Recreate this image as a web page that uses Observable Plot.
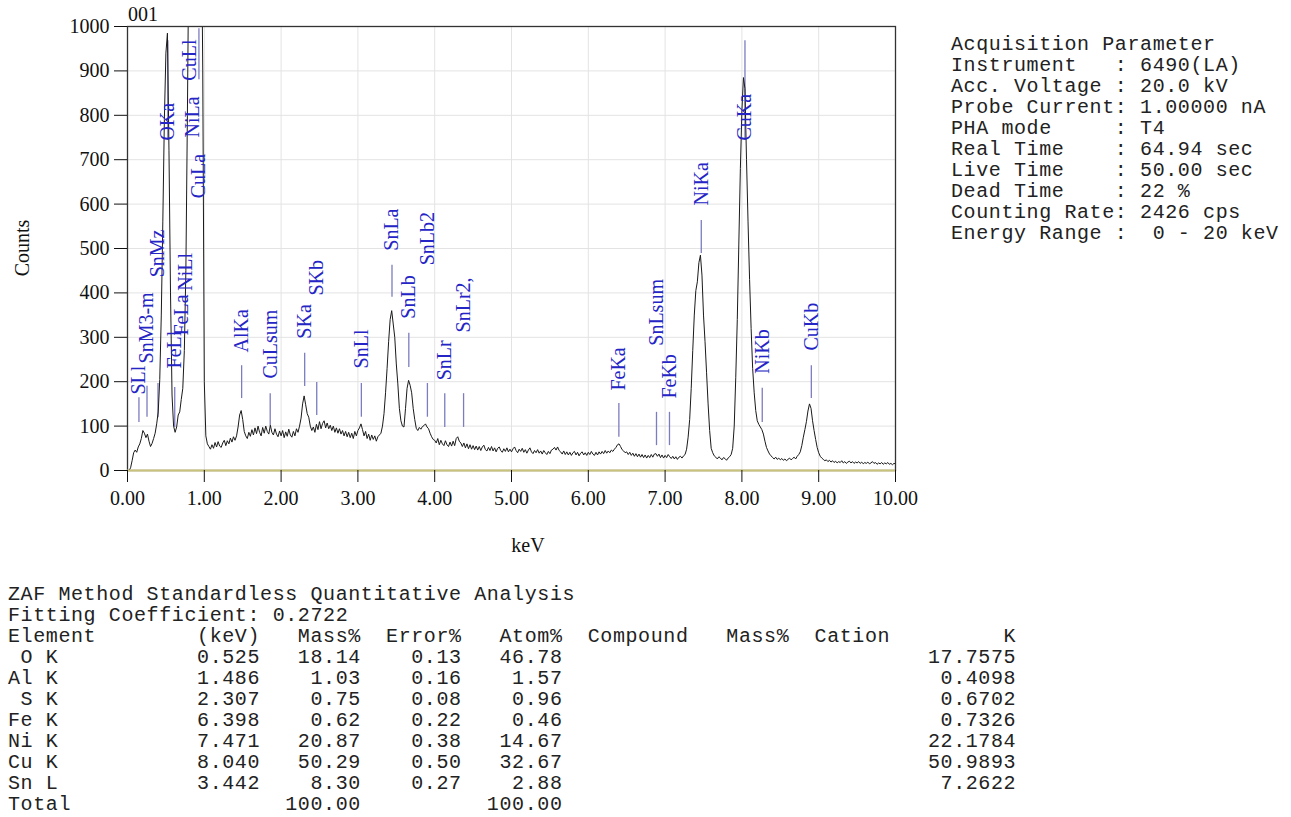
<!DOCTYPE html>
<html><head><meta charset="utf-8">
<script src="https://cdn.jsdelivr.net/npm/d3@7"></script>
<script src="https://cdn.jsdelivr.net/npm/@observablehq/plot@0.6"></script>
<style>
html,body{margin:0;padding:0;background:#fff;width:1291px;height:817px;overflow:hidden;}
#chart{position:absolute;left:0;top:0;}
.serif{position:absolute;font-family:"Liberation Serif","Times New Roman",serif;font-size:20px;color:#111;line-height:1;white-space:nowrap;}
pre{position:absolute;margin:0;font-family:"Liberation Mono","Courier New",monospace;font-size:20px;line-height:21px;letter-spacing:0.6px;color:#222;}
</style></head><body>
<div id="chart"></div>
<div class="serif" id="t001" style="left:128px;top:4px;">001</div>
<div class="serif" style="left:22px;top:248px;transform:translate(-50%,-50%) rotate(-90deg);">Counts</div>
<div class="serif" style="left:528px;top:545px;transform:translate(-50%,-50%);">keV</div>
<pre id="params" style="left:951px;top:34px;"></pre>
<pre id="table" style="left:8px;top:584px;"></pre>
<script>
// ---- spectrum (counts per 0.02 keV channel) ----
const STEP = 0.02;
const counts = [
  0,0,6,22,40,46,41,53,60,72,90,84,74,82,66,54,61,72,84,105,132,205,350,560,790,
  940,985,720,400,170,100,86,98,125,132,160,185,270,450,800,1200,1500,1700,1750,1700,1800,1900,1700,1300,900,
  200,78,60,54,48,58,50,63,53,65,55,52,62,68,56,67,60,73,64,76,68,78,98,125,135,
  115,88,78,72,86,77,92,80,96,83,100,86,78,97,84,100,88,82,102,86,80,94,82,76,89,
  78,90,74,87,77,93,80,75,88,78,94,86,100,118,150,168,148,128,120,100,90,98,86,104,92,
  110,94,106,112,96,107,94,102,90,100,86,96,84,94,82,90,78,88,76,86,74,84,72,88,78,
  90,96,105,92,78,88,72,82,68,80,70,78,66,76,80,84,100,128,175,230,290,340,360,330,300,
  240,195,140,112,100,98,140,185,203,192,175,140,115,95,90,97,93,99,101,105,98,94,84,76,70,
  68,62,72,58,68,60,56,67,58,54,64,55,66,56,72,76,66,62,54,62,51,60,49,58,48,
  56,47,55,46,54,45,53,57,47,44,52,45,54,44,51,42,50,53,45,41,49,43,51,42,48,
  42,49,53,45,40,48,43,50,41,47,39,46,51,42,38,45,40,47,39,44,37,45,40,36,43,
  38,46,48,52,46,53,45,42,37,44,36,42,35,41,34,40,43,35,41,33,39,42,35,40,34,
  41,36,43,37,34,41,35,42,37,43,38,45,39,44,40,46,43,48,52,58,60,54,47,44,40,
  42,36,41,34,39,32,38,31,37,30,36,29,35,28,34,29,36,30,37,38,32,37,29,35,28,
  34,29,36,31,27,32,26,31,25,30,32,28,33,36,48,75,115,185,270,350,405,425,468,485,440,
  350,290,220,150,90,50,40,33,30,26,31,28,24,29,27,23,28,31,36,50,100,210,340,510,680,
  810,885,860,700,560,430,320,230,175,135,112,104,98,92,82,66,52,44,37,33,29,26,30,25,28,
  24,27,23,26,22,25,28,24,27,30,26,32,36,42,56,75,92,110,134,150,140,112,90,70,52,
  40,32,28,25,22,24,20,23,19,22,18,21,17,20,18,22,17,20,16,19,21,17,20,16,19,
  17,20,16,19,15,18,16,19,15,17,20,16,18,14,17,15,18,14,17,15,18,14,16,13,16,
  15
];
const spectrum = counts.map((c, i) => ({keV: +(i * STEP).toFixed(2), counts: c}));

// ---- peak markers ----
const markerNames = ["SLl","SnM3-m","SnMz","OKa","FeLl","FeLa","NiLl","NiLa","CuLl","CuLa",
  "AlKa","CuLsum","SKa","SKb","SnLl","SnLa","SnLb","SnLb2","SnLr","SnLr2,",
  "FeKa","SnLsum","FeKb","NiKa","CuKa","NiKb","CuKb"];
const markerKeV = [0.149,0.254,0.397,0.525,0.615,0.705,0.752,0.851,0.811,0.930,
  1.486,1.858,2.307,2.464,3.045,3.444,3.663,3.905,4.131,4.376,
  6.398,6.888,7.057,7.471,8.040,8.265,8.904];
const markerLow  = [108,120,119,743,97,null,null,null,null,880,
  162,101,189,124,120,390,232,120,97,97,
  75,56,56,489,743,108,162];
const markerHigh = [164,190,196,968,187,null,null,null,null,995,
  236,173,264,198,196,462,309,196,173,173,
  151,131,131,563,968,185,236];
const labelAt = [171,241,435,743,230,304,405,750,878,613,
  266,207,297,394,230,495,342,462,203,311,
  180,281,162,597,743,218,270];
const markers = markerNames.map((n, i) => ({name: n, keV: markerKeV[i], low: markerLow[i], high: markerHigh[i], label: labelAt[i]}));

// ---- axes ----
const xTicks = [0,1,2,3,4,5,6,7,8,9,10];
const yTicks = [0,100,200,300,400,500,600,700,800,900,1000];
const gridX = [1,2,3,4,5,6,7,8,9];
const gridY = [100,200,300,400,500,600,700,800,900];

const serif = '"Liberation Serif","Times New Roman",serif';
const chart = Plot.plot({
  width: 930, height: 560,
  marginLeft: 127, marginRight: 35, marginTop: 26, marginBottom: 90,
  style: {fontFamily: serif, fontSize: "20px", color: "#111", background: "transparent", overflow: "visible"},
  x: {domain: [0, 10]},
  y: {domain: [0, 1000]},
  marks: [
    Plot.ruleY(gridY, {stroke: "#e3e3e3", strokeWidth: 1}),
    Plot.ruleX(gridX, {stroke: "#e3e3e3", strokeWidth: 1}),
    Plot.ruleX(markers.filter(d => d.low != null), {x: "keV", y1: "low", y2: "high", stroke: "#7c7cc0", strokeWidth: 1.3}),
    Plot.line(spectrum, {x: "keV", y: "counts", stroke: "#1a1a1a", strokeWidth: 1, clip: true}),
    Plot.text(markers, {x: "keV", y: "label", text: "name", rotate: -90, textAnchor: "start", fill: "#2525c6", fontSize: 20, fontFamily: serif}),
    Plot.frame({stroke: "#333", strokeWidth: 1.3}),
    Plot.ruleY([0], {stroke: "#c9c27a", strokeWidth: 2}),
    Plot.axisX({ticks: xTicks, tickFormat: d => d.toFixed(2), tickSize: 12, tickPadding: 8, label: null, fontSize: 20}),
    Plot.axisY({ticks: yTicks, tickFormat: d => String(d), tickSize: 13, tickPadding: 5, label: null, fontSize: 20})
  ]
});
document.getElementById("chart").appendChild(chart);

// ---- acquisition parameters ----
const paramNames = ["Instrument   ","Acc. Voltage ","Probe Current","PHA mode     ","Real Time    ","Live Time    ","Dead Time    ","Counting Rate","Energy Range "];
const paramValues = ["6490(LA)","20.0 kV","1.00000 nA","T4","64.94 sec","50.00 sec","22 %","2426 cps"," 0 - 20 keV"];
document.getElementById("params").textContent =
  ["Acquisition Parameter"].concat(paramNames.map((n, i) => n + ": " + paramValues[i])).join("\n");

// ---- ZAF table ----
const elements = [" O K","Al K"," S K","Fe K","Ni K","Cu K","Sn L"];
const energies = ["0.525","1.486","2.307","6.398","7.471","8.040","3.442"];
const massPct = ["18.14","1.03","0.75","0.62","20.87","50.29","8.30"];
const errorPct = ["0.13","0.16","0.08","0.22","0.38","0.50","0.27"];
const atomPct = ["46.78","1.57","0.96","0.46","14.67","32.67","2.88"];
const kValues = ["17.7575","0.4098","0.6702","0.7326","22.1784","50.9893","7.2622"];
const totalMass = "100.00", totalAtom = "100.00";

function row(el, kev, mass, err, atom, k) {
  let s = el.padEnd(15, " ");
  s += kev.padStart(5, " ");
  s += mass.padStart(8, " ");
  s += err.padStart(8, " ");
  s += atom.padStart(8, " ");
  if (k) s += k.padStart(36, " ");
  return s;
}
const header = "Element".padEnd(15," ") + "(keV)" + "Mass%".padStart(8," ") + "Error%".padStart(8," ") + "Atom%".padStart(8," ")
  + "  Compound" + "   Mass%" + "  Cation" + "K".padStart(10, " ");
const lines = ["ZAF Method Standardless Quantitative Analysis", "Fitting Coefficient: 0.2722", header];
elements.forEach((e, i) => lines.push(row(e, energies[i], massPct[i], errorPct[i], atomPct[i], kValues[i])));
lines.push(row("Total", "", totalMass, "", totalAtom, ""));
document.getElementById("table").textContent = lines.join("\n");
</script>
</body></html>
